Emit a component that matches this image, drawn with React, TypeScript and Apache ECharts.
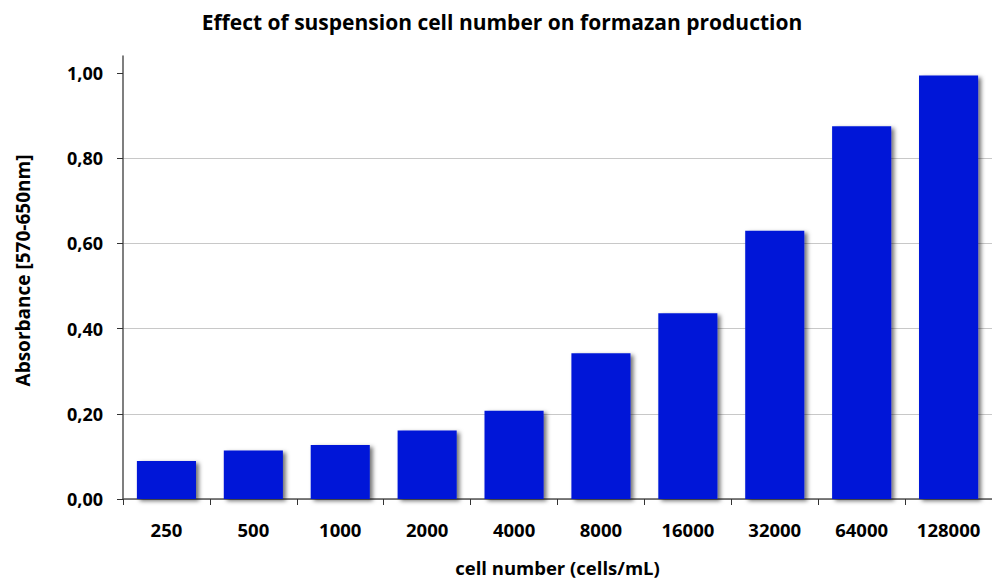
import React, { useEffect, useRef } from "react";
import * as echarts from "echarts";

const categories = ["250", "500", "1000", "2000", "4000", "8000", "16000", "32000", "64000", "128000"];
const absorbance = [0.089, 0.114, 0.127, 0.161, 0.207, 0.342, 0.436, 0.63, 0.875, 0.994];
const yTicks = [0, 0.2, 0.4, 0.6, 0.8, 1.0];

const FONT = "Open Sans";

export default function App() {
  const ref = useRef<HTMLDivElement>(null);
  useEffect(() => {
    document.body.style.margin = "0";
    document.body.style.overflow = "hidden";
    if (!ref.current) return;
    const chart = echarts.init(ref.current, undefined, { renderer: "svg" });
    chart.setOption({
      animation: false,
      backgroundColor: "#ffffff",
      title: {
        text: "Effect of suspension cell number on formazan production",
        left: 497,
        textAlign: "center",
        top: 6,
        textStyle: { fontFamily: FONT, fontWeight: "bold", fontSize: 21, color: "#000" },
      },
      grid: { left: 123, top: 56, width: 873, height: 443, containLabel: false },
      xAxis: {
        type: "category",
        data: categories,
        name: "cell number (cells/mL)",
        nameLocation: "middle",
        nameGap: 59,
        nameTextStyle: { fontFamily: FONT, fontWeight: "bold", fontSize: 18.5, color: "#000" },
        axisLine: { lineStyle: { color: "#555", width: 1.5 } },
        axisTick: { show: true, length: 6, lineStyle: { color: "#333" } },
        axisLabel: { fontFamily: FONT, fontWeight: "bold", fontSize: 18.5, color: "#000", margin: 21 },
      },
      yAxis: {
        type: "value",
        min: 0,
        max: 1.04,
        interval: 0.2,
        name: "Absorbance [570-650nm]",
        nameLocation: "middle",
        nameGap: 91,
        nameTextStyle: { fontFamily: FONT, fontWeight: "bold", fontSize: 19, color: "#000", padding: [0, 0, 0, 14] },
        axisLine: { show: true, lineStyle: { color: "#555", width: 1.5 } },
        axisTick: { show: true, length: 6, customValues: yTicks, lineStyle: { color: "#333" } },
        axisLabel: {
          fontFamily: FONT,
          fontWeight: "bold",
          fontSize: 18,
          color: "#000",
          margin: 20,
          customValues: yTicks,
          formatter: (v: number) => v.toFixed(2).replace(".", ","),
        },
        splitLine: { show: true, showMaxLine: false, lineStyle: { color: "#c8c8c8", width: 1.2 } },
      },
      series: [
        {
          type: "bar",
          data: absorbance,
          barWidth: "68%",
          itemStyle: {
            color: "#0218d8",
            shadowColor: "rgba(0,0,0,0.55)",
            shadowBlur: 4,
            shadowOffsetX: 3,
            shadowOffsetY: 2,
          },
        },
      ],
    });
    return () => chart.dispose();
  }, []);
  return <div ref={ref} style={{ width: 992, height: 582 }} />;
}
